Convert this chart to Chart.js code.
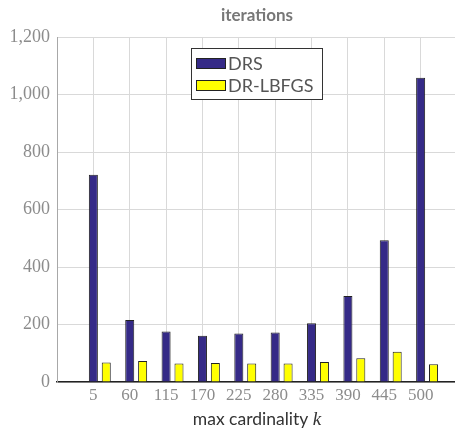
<!DOCTYPE html>
<html>
<head>
<meta charset="utf-8">
<script src="https://cdn.jsdelivr.net/npm/chart.js@4"></script>
<style>
  html, body { margin: 0; padding: 0; overflow: hidden; background: #fff; }
  #wrap { width: 460px; height: 428px; position: relative; }
</style>
</head>
<body>
<div id="wrap"><canvas id="iterations"></canvas></div>
<script>
// max cardinality k
var kValues = [5, 60, 115, 170, 225, 280, 335, 390, 445, 500];
// iterations per method
var drsIters = [721, 216, 176, 161, 169, 172, 204, 299, 493, 1058];
var lbfgsIters = [68, 73, 64, 66, 64, 64, 70, 83, 105, 62];
var yTicks = [0, 200, 400, 600, 800, 1000, 1200];

// an empty slot on each side, like the original axis
var labels = [''].concat(kValues.map(String)).concat(['']);
function pad(arr) { return [null].concat(arr).concat([null]); }

var serif = 'Liberation Serif';
var sans = 'Lato';

// legend drawn inside the plot, with a frame
const boxLegend = {
    id: 'boxLegend',
    afterDraw(chart) {
        const ctx = chart.ctx;
        const area = chart.chartArea;
        const bx = area.left + 134, by = area.top + 11;
        ctx.save();
        ctx.fillStyle = '#fff';
        ctx.fillRect(bx, by, 131, 51);
        ctx.strokeStyle = '#333';
        ctx.lineWidth = 1;
        ctx.strokeRect(bx + 0.5, by + 0.5, 131, 51);
        let row = 0;
        chart.data.datasets.forEach(function (ds) {
            if (!ds.label) return;
            const my = by + 10 + row * 22;
            ctx.fillStyle = ds.backgroundColor;
            ctx.fillRect(bx + 5, my, 29, 10);
            ctx.strokeStyle = '#222';
            ctx.strokeRect(bx + 5.5, my + 0.5, 29, 10);
            ctx.fillStyle = '#555';
            ctx.font = '18px ' + sans;
            ctx.textBaseline = 'middle';
            ctx.textAlign = 'left';
            ctx.fillText(ds.label, bx + 37, my + 6);
            row++;
        });
        ctx.restore();
    }
};

// x axis title with an italic k
const xTitle = {
    id: 'xTitle',
    afterDraw(chart) {
        const ctx = chart.ctx;
        const area = chart.chartArea;
        const part1 = 'max cardinality ';
        const part2 = 'k';
        ctx.save();
        ctx.font = '17.5px ' + sans;
        const w1 = ctx.measureText(part1).width;
        ctx.font = 'italic 19px ' + serif;
        const w2 = ctx.measureText(part2).width;
        const cx = (area.left + area.right) / 2;
        const x0 = cx - (w1 + w2) / 2;
        const y = 425;
        ctx.textBaseline = 'alphabetic';
        ctx.textAlign = 'left';
        ctx.fillStyle = '#333';
        ctx.font = '17.5px ' + sans;
        ctx.fillText(part1, x0, y);
        ctx.font = 'italic 19px ' + serif;
        ctx.fillText(part2, x0 + w1, y);
        ctx.restore();
    }
};

var ctx = document.getElementById('iterations').getContext('2d');
var config = {
    type: 'bar',
    data: {
        labels: labels,
        datasets: [{
            label: '',
            data: pad(kValues.map(function () { return null; })),
            backgroundColor: 'rgba(0,0,0,0)',
            borderWidth: 0
        }, {
            label: 'DRS',
            data: pad(drsIters),
            backgroundColor: '#352a87',
            borderColor: '#222',
            borderWidth: 1
        }, {
            label: 'DR-LBFGS',
            data: pad(lbfgsIters),
            backgroundColor: '#ffff00',
            borderColor: '#222',
            borderWidth: 1
        }]
    },
    options: {
        responsive: true,
        maintainAspectRatio: false,
        animation: false,
        categoryPercentage: 1.064,
        barPercentage: 0.7,
        layout: { padding: 0 },
        plugins: {
            legend: { display: false },
            tooltip: { enabled: false },
            title: { display: false }
        },
        scales: {
            x: {
                type: 'category',
                position: 'bottom',
                offset: false,
                grid: { offset: false, color: '#d9d9d9', drawTicks: false },
                border: { color: '#222', width: 1.5 },
                ticks: {
                    autoSkip: false,
                    maxRotation: 0,
                    padding: 3,
                    color: '#8c8c8c',
                    font: { family: serif, size: 17 }
                },
                afterFit(scale) { scale.height = 46; }
            },
            top: {
                type: 'category',
                position: 'top',
                offset: false,
                grid: { display: false },
                border: { display: false },
                ticks: { display: false },
                title: {
                    display: true,
                    text: 'iterations',
                    color: '#777',
                    font: { family: sans, size: 17, weight: 'bold' },
                    padding: { top: 5, bottom: 0 }
                },
                afterFit(scale) { scale.height = 37; }
            },
            y: {
                min: yTicks[0],
                max: yTicks[yTicks.length - 1],
                afterBuildTicks(scale) {
                    scale.ticks = yTicks.map(function (v) { return { value: v }; });
                },
                grid: { color: '#d9d9d9', drawTicks: false },
                border: { color: '#a8a8a8', width: 1 },
                ticks: {
                    padding: 7,
                    color: '#8c8c8c',
                    font: { family: serif, size: 18 },
                    callback: function (v) { return v.toLocaleString('en-US'); }
                },
                afterFit(scale) { scale.width = 57; }
            }
        }
    },
    plugins: [boxLegend, xTitle]
};
var iterChart = new Chart(ctx, config);
</script>
</body>
</html>
